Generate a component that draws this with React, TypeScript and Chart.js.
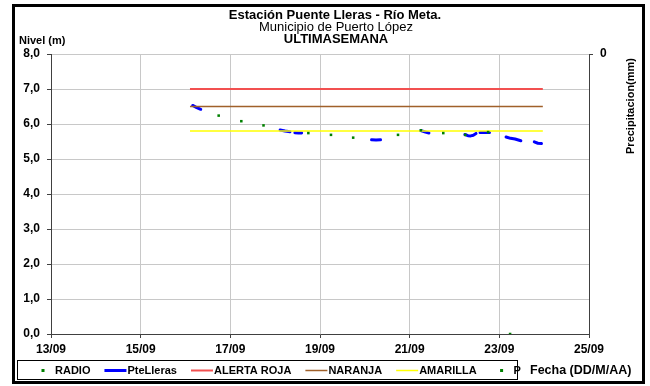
import React, { useEffect, useRef } from 'react';
import { Chart, registerables } from 'chart.js';

Chart.register(...registerables);

// ---- data (days of September, 13.0 = 13/09 00:00) ----
const xMin = 13;
const xMax = 25;
const xStep = 2;
const yMin = 0;
const yMax = 8;
const yStep = 1;

const titleLines = ['Estación Puente Lleras - Río Meta.', 'Municipio de Puerto López', 'ULTIMASEMANA'];
const yTitle = 'Nivel (m)';
const y2Title = 'Precipitacion(mm)';
const xTitle = 'Fecha (DD/M/AA)';

const radioX = [16.74, 17.245, 17.74, 18.74, 19.245, 19.74, 20.74, 21.25, 21.75, 22.24, 22.75];
const radioY = [6.24, 6.08, 5.96, 5.74, 5.69, 5.61, 5.69, 5.82, 5.74, 5.69, 5.77];

const pteX = [16.16, 16.25, 16.34, 17.0, 18.11, 18.22, 18.33, 18.4, 18.44, 18.52, 18.59, 19.0, 20.15, 20.25, 20.35, 21.0, 21.25, 21.35, 21.43, 22.0, 22.23, 22.3, 22.36, 22.42, 22.48, 22.52, 22.57, 22.68, 22.78, 23.0, 23.15, 23.25, 23.35, 23.48, 23.6, 23.78, 23.86, 23.94];
const pteY = [6.53, 6.47, 6.42, null, 5.83, 5.8, 5.78, null, 5.75, 5.74, 5.745, null, 5.55, 5.545, 5.55, null, 5.81, 5.77, 5.745, null, 5.7, 5.665, 5.66, 5.68, 5.73, null, 5.755, 5.76, 5.76, null, 5.63, 5.59, 5.57, 5.52, null, 5.49, 5.45, 5.44];

const alertX = [16.1, 23.97];
const rojaLevel = 7.0;
const naranjaLevel = 6.5;
const amarillaLevel = 5.8;

const pX = [23.24];
const pY = [0];

const FONT = '"Liberation Sans", Arial, sans-serif';

const pad2 = (n: number) => String(n).padStart(2, '0');

const decorPlugin = {
  id: 'decor',
  beforeDraw(chart: any) {
    const ctx = chart.ctx;
    ctx.save();
    ctx.fillStyle = '#ffffff';
    ctx.fillRect(0, 0, chart.width, chart.height);
    ctx.restore();
  },
  afterDraw(chart: any) {
    const ctx = chart.ctx;
    ctx.save();
    ctx.fillStyle = '#000';
    ctx.textBaseline = 'middle';
    // titles
    ctx.textAlign = 'center';
    ctx.font = 'bold 13px ' + FONT;
    ctx.fillText(titleLines[0], 335, 15);
    ctx.font = '13px ' + FONT;
    ctx.fillText(titleLines[1], 336, 27);
    ctx.font = 'bold 13px ' + FONT;
    ctx.fillText(titleLines[2], 336, 39);
    // y title
    ctx.textAlign = 'left';
    ctx.font = 'bold 11px ' + FONT;
    ctx.fillText(yTitle, 19, 41);
    // y2 title rotated
    ctx.save();
    ctx.translate(631, 106);
    ctx.rotate(-Math.PI / 2);
    ctx.textAlign = 'center';
    ctx.fillText(y2Title, 0, 0);
    ctx.restore();
    // legend
    const ly = 370.5;
    ctx.strokeStyle = '#000';
    ctx.lineWidth = 1;
    ctx.strokeRect(17.5, 360.5, 500, 19);
    let x = 32;
    ctx.font = 'bold 11px ' + FONT;
    chart.data.datasets.forEach((ds: any) => {
      if (ds.showLine === false) {
        ctx.fillStyle = ds.pointBackgroundColor;
        ctx.fillRect(x + 11 - 1.5, ly - 1.5, 3, 3);
      } else {
        ctx.strokeStyle = ds.borderColor;
        ctx.lineWidth = ds.borderWidth;
        ctx.beginPath();
        ctx.moveTo(x, ly);
        ctx.lineTo(x + 22, ly);
        ctx.stroke();
      }
      ctx.fillStyle = '#000';
      ctx.textAlign = 'left';
      ctx.fillText(ds.label, x + 23, ly);
      x += 23 + ctx.measureText(ds.label).width + 14;
    });
    // x title
    ctx.font = 'bold 12.5px ' + FONT;
    ctx.fillText(xTitle, 530, ly);
    // outer frame
    ctx.strokeStyle = '#000';
    ctx.lineWidth = 3;
    ctx.strokeRect(13.5, 5.5, 630, 377);
    ctx.restore();
  },
};

export default function App() {
  const ref = useRef<HTMLCanvasElement | null>(null);
  useEffect(() => {
    if (!ref.current) return;
    const line = (v: number) => alertX.map((x) => ({ x, y: v }));
    const chart = new Chart(ref.current, {
      type: 'line',
      data: {
        datasets: [
          {
            label: 'RADIO',
            data: radioX.map((x, i) => ({ x, y: radioY[i] })),
            showLine: false,
            pointStyle: 'rect',
            pointRadius: 1.8,
            pointBackgroundColor: '#008000',
            pointBorderColor: '#008000',
            pointBorderWidth: 0,
            borderColor: '#008000',
            order: 0,
          },
          {
            label: 'PteLleras',
            data: pteX.map((x, i) => ({ x, y: pteY[i] })),
            borderColor: '#0000ff',
            borderWidth: 3,
            pointRadius: 0,
            spanGaps: false,
            borderCapStyle: 'round',
            borderJoinStyle: 'round',
            order: 5,
          },
          {
            label: 'ALERTA ROJA',
            data: line(rojaLevel),
            borderColor: '#f25050',
            borderWidth: 2,
            pointRadius: 0,
            order: 3,
          },
          {
            label: 'NARANJA',
            data: line(naranjaLevel),
            borderColor: '#a0602a',
            borderWidth: 1.5,
            pointRadius: 0,
            order: 2,
          },
          {
            label: 'AMARILLA',
            data: line(amarillaLevel),
            borderColor: '#ffff00',
            borderWidth: 1.5,
            pointRadius: 0,
            order: 1,
          },
          {
            label: 'P',
            data: pX.map((x, i) => ({ x, y: pY[i] })),
            showLine: false,
            pointStyle: 'rect',
            pointRadius: 1.8,
            pointBackgroundColor: '#008000',
            pointBorderColor: '#008000',
            pointBorderWidth: 0,
            borderColor: '#008000',
            order: 0,
          },
        ],
      },
      options: {
        responsive: false,
        animation: false,
        devicePixelRatio: 1,
        events: [],
        layout: { padding: { left: 0, right: 0, top: 54, bottom: 0 } },
        plugins: {
          legend: { display: false },
          title: { display: false },
          tooltip: { enabled: false },
        },
        scales: {
          x: {
            type: 'linear',
            min: xMin,
            max: xMax,
            afterFit: (s: any) => {
              s.height = 52;
            },
            ticks: {
              stepSize: xStep,
              padding: 4,
              color: '#000',
              font: { family: FONT, size: 12, weight: 'bold' },
              callback: (v: any) => pad2(v) + '/09',
            },
            grid: { color: '#c8c8c8', lineWidth: 1, tickColor: '#404040', tickLength: 4 },
            border: { color: '#404040', width: 1 },
          },
          y: {
            min: yMin,
            max: yMax,
            afterFit: (s: any) => {
              s.width = 51;
            },
            ticks: {
              stepSize: yStep,
              padding: 7,
              color: '#000',
              font: { family: FONT, size: 12, weight: 'bold' },
              callback: (v: any) => Number(v).toFixed(1).replace('.', ','),
            },
            grid: { color: '#c8c8c8', lineWidth: 1, tickColor: '#404040', tickLength: 4 },
            border: { color: '#404040', width: 1 },
          },
          y2: {
            position: 'right',
            reverse: true,
            min: 0,
            max: 1,
            afterFit: (s: any) => {
              s.width = 61;
            },
            afterBuildTicks: (s: any) => {
              s.ticks = [{ value: 0 }];
            },
            ticks: {
              padding: 7,
              color: '#000',
              font: { family: FONT, size: 12, weight: 'bold' },
              callback: () => '0',
            },
            grid: { drawOnChartArea: false, tickColor: '#404040', tickLength: 4 },
            border: { color: '#404040', width: 1 },
          },
        },
      },
      plugins: [decorPlugin],
    } as any);
    return () => chart.destroy();
  }, []);
  return (
    <div style={{ position: 'absolute', left: 0, top: 0, width: 650, height: 386 }}>
      <canvas ref={ref} width={650} height={386} style={{ display: 'block', width: 650, height: 386 }} />
    </div>
  );
}
